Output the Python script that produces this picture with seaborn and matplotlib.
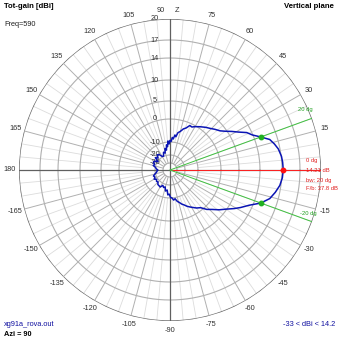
import numpy as np
import matplotlib
matplotlib.use("Agg")
import matplotlib.pyplot as plt
import seaborn as sns
import pandas as pd
from matplotlib.transforms import ScaledTranslation

# ---- data ----
angles_deg = [0, 4, 7, 11, 14, 17, 20, 23, 26, 29, 32, 35, 38, 42, 46, 50, 55, 60, 63, 66,
              69, 72, 75, 78, 80, 82, 84, 86, 88, 90, 92, 94, 96, 98, 100, 103, 106, 110,
              115, 120, 125, 130, 135, 140, 145, 150, 155, 160, 165, 170, 175, 180,
              185, 190, 195, 200, 205, 210, 215, 220, 225, 230, 235, 240, 245, 250, 254,
              258, 262, 265, 268, 271, 274, 277, 280, 283, 286, 289, 292, 295, 298, 301,
              305, 309, 313, 317, 321, 325, 329, 332, 336, 340, 344, 348, 352, 356, 360]
gain_db = [14.21, 14.15, 14.05, 13.7, 13.2, 12.6, 11.2, 9.9, 8.9, 7.2, 5.9, 4.6, 3.5, 2.7,
           1.9, 1.3, 0.5, -0.4, -1.2, -1.0, -2.6, -3.4, -4.8, -5.6, -7.5, -6.8, -8.6, -8.0,
           -9.8, -9.3, -11.5, -9.5, -13.5, -12.0, -16.0, -14.5, -18.0, -17.0, -19.8, -19.5,
           -17.0, -16.3, -18.5, -16.8, -20.5, -18.0, -17.4, -19.0, -18.2, -20.5, -21.5, -23.6,
           -22.5, -21.5, -19.5, -18.0, -18.8, -17.5, -19.0, -18.0, -18.5, -17.0, -16.8, -16.4,
           -18.5, -17.2, -18.0, -15.0, -16.0, -12.3, -13.0, -10.5, -10.0, -9.0, -9.5, -8.2,
           -7.5, -6.5, -5.8, -4.8, -4.0, -3.2, -2.0, -1.1, 0.8, 1.9, 3.4, 4.8, 6.4, 7.6, 9.2,
           11.2, 12.5, 13.2, 13.8, 14.1, 14.21]
max_angle = 0
max_gain = 14.21
bw_angles = [20, -20]
bw_gain = 11.2
radial_ticks = [-30, -20, -10, 0, 5, 10, 14, 17, 20]
angle_ticks = [15, 30, 45, 60, 75, 105, 120, 135, 150, 165, 180, -165, -150, -135,
               -120, -105, -90, -75, -60, -45, -30, -15]

# radial (dB -> pixel radius) scale knots of this log-like grid
knot_db = [-38.75, -30, -20, -10, 0, 5, 10, 14, 17, 20, 30]
knot_px = [0, 7, 15, 28, 51, 69, 90, 112, 130, 151, 221]

def fwd(v):
    return np.interp(v, knot_db, knot_px)

def inv(p):
    return np.interp(p, knot_px, knot_db)

sns.set_theme(style="white")
plt.rcParams['font.family'] = ['Liberation Sans', 'DejaVu Sans']

fig = plt.figure(figsize=(3.39, 3.39), dpi=100)
R = 151 / 339.0
cx, cy = 170 / 339.0, 1 - 170 / 339.0
ax = fig.add_axes([cx - R, cy - R, 2 * R, 2 * R], projection='polar')
ax.set_yscale('function', functions=(fwd, inv))
ax.set_ylim(-38.75, 20)
ax.grid(False)
ax.set_xticks([])
ax.set_yticks([])
ax.spines['polar'].set_visible(False)
ax.set_facecolor('white')

full = np.linspace(0, 2 * np.pi, 721)
# circles
for d in radial_ticks:
    col, lw = ('#686868', 1.0) if d == 20 else ('#b0b0b0', 0.8)
    ax.plot(full, np.full_like(full, d), color=col, lw=lw, zorder=1)
# 5-degree lines
for a in range(0, 360, 5):
    if a % 15 == 0:
        continue
    t = np.deg2rad(a)
    ax.plot([t, t], [-10, 20], color='#dcdcdc', lw=0.6, zorder=0.5)
# 15-degree lines
for a in range(0, 360, 15):
    t = np.deg2rad(a)
    if a % 90 == 0:
        ax.plot([t, t], [-38.75, 20], color='#606060', lw=0.9, zorder=1.2)
    else:
        ax.plot([t, t], [-30, 20], color='#b0b0b0', lw=0.7, zorder=1)

# radial labels
off = ax.transData + ScaledTranslation(-15 / 100.0, 0, fig.dpi_scale_trans)
for d in radial_ticks:
    ax.text(np.pi / 2, d, str(d), transform=off, ha='center', va='center',
            fontsize=5.3, color='#303030', zorder=3)

# angle labels
for a in angle_ticks:
    t = np.deg2rad(a)
    rr = 160 / 302.0
    ax.text(0.5 + rr * np.cos(t), 0.5 + rr * np.sin(t), str(a), transform=ax.transAxes,
            ha='center', va='center', fontsize=5.3, color='#303030')
ax.text(0.5 - 5 / 302, 0.5 + 160 / 302, '90', transform=ax.transAxes, ha='right',
        va='center', fontsize=5.3, color='#303030')
ax.text(0.5 + 5 / 302, 0.5 + 160 / 302, 'Z', transform=ax.transAxes, ha='left',
        va='center', fontsize=5.3, color='#303030')

# reference lines
ax.plot([np.deg2rad(max_angle)] * 2, [-38.75, 20], color='#ff2020', lw=0.7, zorder=2)
for a in bw_angles:
    ax.plot([np.deg2rad(a)] * 2, [-38.75, 20], color='#40c040', lw=0.7, zorder=2)

# pattern
df = pd.DataFrame({'theta': np.deg2rad(angles_deg), 'gain': gain_db})
sns.lineplot(data=df, x='theta', y='gain', sort=False, estimator=None, ax=ax,
             color='#0a14b4', lw=1.1, zorder=4)
ax.set_xlabel('')
ax.set_ylabel('')
ax.plot([np.deg2rad(max_angle)], [max_gain], 'o', color='#ff1010', ms=3.2, zorder=5)
ax.plot(np.deg2rad(bw_angles), [bw_gain] * 2, 'o', color='#20b020', ms=3.2, zorder=5)
ax.set_ylim(-38.75, 20)

def ftext(x, y, s, **kw):
    fig.text(x / 339.0, 1 - y / 339.0, s, va='center', **kw)

ftext(4, 7, 'Tot-gain [dBi]', fontsize=5.6, fontweight='bold', color='black')
ftext(4, 24, 'Freq=590', fontsize=5.3, color='#202020')
ftext(334, 7, 'Vertical plane', fontsize=5.6, fontweight='bold', color='black', ha='right')
ftext(4, 325, 'xg91a_rova.out', fontsize=5.3, color='#1010a0')
ftext(4, 335, 'Azi = 90', fontsize=5.3, fontweight='bold', color='black')
ftext(335, 325, '-33 < dBi < 14.2', fontsize=5.3, color='#1010a0', ha='right')
red = '#e02020'
ftext(306, 161, '0 dg', fontsize=4.2, color=red)
ftext(306, 171, '14.21 dB', fontsize=4.2, color=red)
ftext(306, 180, 'bw: 20 dg', fontsize=4.2, color=red)
ftext(306, 189, 'F/b: 37.8 dB', fontsize=4.2, color=red)
ftext(298, 110, '20 dg', fontsize=4.2, color='#20a020')
ftext(300, 213, '-20 dg', fontsize=4.2, color='#20a020')

fig.savefig('out.png', dpi=100, facecolor='white')
